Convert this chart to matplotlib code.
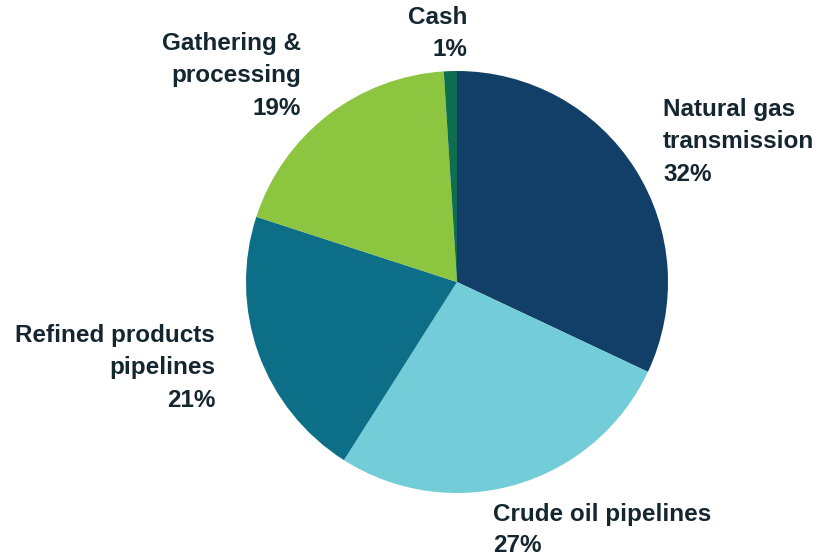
import matplotlib
matplotlib.use("Agg")
import matplotlib.pyplot as plt

# Asset mix by segment
segments = ["Natural gas\ntransmission", "Crude oil pipelines", "Refined products\npipelines",
            "Gathering &\nprocessing", "Cash"]
shares = [32, 27, 21, 19, 1]
colors = ["#113f67", "#72cdd9", "#0d6f87", "#8cc540", "#0f6e50"]

# label anchor (pixels from top-left) and alignment for each segment
label_pos = [(663, 98, "left"), (493, 503, "left"), (215, 324, "right"),
             (301, 32, "right"), (467, 6, "right")]

W, H = 818, 558
fig = plt.figure(figsize=(W / 100, H / 100), dpi=100)
ax = fig.add_axes([0, 0, 1, 1])

ax.pie(shares, colors=colors, startangle=90, counterclock=False,
       center=(457, H - 282), radius=211, frame=True,
       wedgeprops=dict(linewidth=0))
ax.set_xlim(0, W)
ax.set_ylim(0, H)
ax.set_aspect("equal")
ax.axis("off")

for name, val, (x, y, ha) in zip(segments, shares, label_pos):
    # the bottom label sits close to the edge, so its lines are packed a little tighter
    ls = 1.45 if y > 450 else 1.52
    ax.text(x, H - y, f"{name}\n{val}%", ha=ha, va="top", multialignment=ha,
            fontsize=17.5, fontweight="bold", family="Liberation Sans", color="#14262f",
            linespacing=ls)

fig.savefig("out.png", dpi=100)
